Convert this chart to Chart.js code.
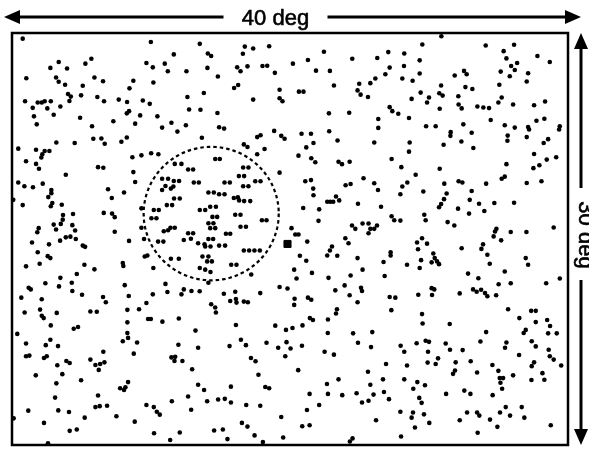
<!DOCTYPE html>
<html>
<head>
<meta charset="utf-8">
<script src="https://cdn.jsdelivr.net/npm/chart.js@4.4.1/dist/chart.umd.min.js"></script>
<style>
  html, body { margin: 0; padding: 0; background: #fff; }
  canvas { display: block; }
</style>
</head>
<body>
<canvas id="myChart" width="589" height="451"></canvas>
<script>
// field is 40 deg wide, 30 deg tall; dots given as [x deg from left, y deg from top]
const fieldWidth = 40
const fieldHeight = 30
const widthLabel = '40 deg'
const heightLabel = '30 deg'

const dotsRow1 = [
  [0.77,0.41],[9.99,0.65],[13.51,0.79],[11.64,1.56],[3.36,2.11],[5.71,1.87],[5.28,2.23],[2.76,2.54],[3.96,2.59],[9.67,2.18],
  [10.99,2.23],[10.13,2.50],[11.21,2.79],[12.55,2.79],[1.03,3.29],[3.17,3.24],[3.36,3.55],[3.82,3.77],[5.93,3.24],[6.55,3.51],
  [5.09,3.84],[8.73,3.48],[8.45,4.03],[10.17,3.60],[4.03,4.44],[4.23,4.63],[4.13,4.95],[4.97,4.54],[6.14,4.66],[6.62,4.97],
  [7.68,4.85],[8.28,5.02],[9.41,4.92],[9.91,5.16],[12.62,4.66],[0.94,4.97],[1.85,5.06],[2.14,5.06],[2.35,4.97],[2.79,4.97],
  [1.49,5.45],[2.54,5.49],[3.48,5.35],[3.00,5.95],[1.58,6.07],[1.78,6.65],[4.90,6.17],[5.76,6.79],[7.29,6.43],[8.42,5.69],
  [8.26,5.85],[9.22,6.00],[8.86,6.60],[10.46,6.07],[10.80,6.89],[11.47,6.53],[11.90,7.18],[12.51,6.72],[12.74,5.57],
  [16.75,0.99],[17.35,1.13],[18.50,0.96],[14.09,1.49],[14.33,1.68],[16.61,1.51],[22.44,1.37],[24.48,1.87],[26.28,1.82],[21.29,1.97],
  [20.21,2.23],[14.06,2.54],[16.20,2.50],[16.44,2.79],[16.94,2.43],[18.02,2.40],[18.36,2.38],[18.91,2.90],[21.87,2.74],[22.87,2.76],
  [26.86,3.00],[14.81,3.17],[24.98,3.69],[25.78,3.65],[26.14,3.31],[23.16,3.82],[15.98,4.01],[16.27,3.79],[19.25,4.13],[24.86,4.18],
  [25.08,4.49],[25.61,4.66],[13.80,4.37],[20.64,4.27],[20.97,4.27],[19.25,4.75],[19.46,4.97],[17.35,4.85],[13.56,5.59],[14.78,5.83],
  [22.80,5.85],[24.26,5.81],[26.35,6.26],[14.90,6.86],[15.26,6.96],[18.86,7.13],[20.83,7.34],[21.51,7.34],[22.82,7.15],[26.35,6.91],
  [30.89,0.24],[29.52,0.84],[34.08,0.91],[36.12,0.86],[27.07,1.39],[28.22,1.49],[35.37,1.32],[37.80,1.68],[35.57,1.85],[38.69,2.11],
  [29.33,1.99],[27.17,2.52],[28.20,2.40],[35.91,2.40],[36.34,2.18],[36.17,2.69],[35.16,2.81],[32.52,2.76],[32.71,3.00],[29.33,2.95],
  [31.85,3.10],[35.81,3.15],[37.13,2.93],[28.08,3.31],[28.82,3.48],[37.03,3.53],[35.06,3.77],[30.87,3.82],[32.62,3.94],[33.12,4.08],
  [29.40,4.34],[30.74,4.39],[30.98,4.56],[30.00,4.70],[28.75,4.80],[32.11,4.61],[35.23,4.70],[29.86,5.06],[34.99,5.06],[32.13,5.21],
  [32.35,5.49],[27.17,5.40],[27.36,5.69],[27.79,5.88],[30.77,5.52],[33.48,5.35],[33.91,5.42],[34.32,5.47],[36.05,5.21],[37.56,5.26],
  [38.35,4.99],[28.56,6.19],[34.44,6.34],[37.73,6.39],[38.30,6.24],[29.79,6.79],[30.48,6.79],[32.47,6.65],[35.45,6.72],[36.17,6.89],
  [37.13,6.84],[37.20,7.03],[39.41,6.79],[39.36,7.03],[31.56,7.22],[31.54,7.49],[33.07,7.26]
]

const dotsRow2 = [
  [0.45,8.42],[1.73,8.50],[2.35,8.59],[2.69,8.59],[2.18,8.83],[2.11,9.07],[3.19,7.97],[4.51,8.01],[5.85,7.70],[6.43,7.68],
  [6.67,8.06],[7.87,7.92],[8.26,7.61],[1.01,9.34],[1.73,9.53],[1.94,9.89],[3.87,10.32],[6.19,9.77],[6.57,9.81],[8.66,9.05],
  [9.31,8.91],[10.01,8.76],[10.53,8.83],[8.73,10.13],[8.86,10.85],[0.45,10.89],[0.89,11.16],[1.51,11.23],[2.21,10.97],[2.83,11.43],
  [2.83,11.66],[2.61,11.95],[6.91,11.38],[8.06,11.61],[0.09,12.15],[0.77,12.53],[2.90,12.38],[2.79,12.62],[3.58,12.51],[7.18,12.02],
  [3.67,13.25],[4.39,13.18],[6.60,13.10],[7.20,13.15],[7.39,13.41],[3.65,13.59],[3.00,13.95],[3.51,13.90],[4.34,13.99],[1.92,14.21],
  [1.82,14.51],[3.17,14.31],[4.54,14.38],[7.39,14.47],[9.31,14.18],[9.31,12.77],
  [10.80,10.61],[11.23,10.61],[11.64,10.78],[12.02,10.78],[11.04,11.14],[11.61,11.18],[10.80,11.43],[11.43,11.33],[11.66,12.05],[12.07,12.05],
  [11.14,12.53],[11.52,12.53],[10.20,12.89],[10.56,12.89],[10.03,13.49],[10.39,13.49],[11.40,14.18],[11.71,14.18],[11.23,14.36],[10.92,14.44],
  [12.67,14.58],[13.03,14.58],[11.71,9.53],[12.19,9.53],[12.67,9.94],[13.03,9.94],[13.08,10.89],[13.44,10.89],
  [13.66,7.63],[17.64,7.58],[17.88,7.44],[19.37,7.49],[19.61,7.70],[23.42,7.83],[26.06,7.97],[16.68,8.11],[16.94,8.30],[18.17,8.45],
  [17.64,8.83],[20.61,8.93],[21.17,8.33],[21.69,8.01],[21.53,9.12],[21.82,9.41],[23.49,9.38],[23.74,9.55],[24.29,9.38],[19.25,10.17],
  [14.62,9.17],[14.95,9.17],[16.63,9.79],[17.01,9.79],[16.32,10.42],[16.70,10.42],[15.29,10.89],[15.67,10.89],[17.50,10.80],[17.88,10.80],
  [16.63,11.16],[17.01,11.16],[14.13,11.61],[14.52,11.61],[14.90,11.74],[15.29,11.74],[15.96,12.02],[16.25,11.97],[16.34,12.19],[16.70,12.24],
  [17.14,12.24],[13.51,12.89],[13.90,12.89],[14.26,12.65],[14.67,12.65],[14.42,13.39],[14.76,13.39],[16.06,13.23],[16.44,13.23],[17.98,13.63],
  [18.31,13.63],[14.13,13.85],[14.49,13.85],[14.26,14.21],[14.62,14.21],[16.44,14.11],[16.83,14.11],[15.39,14.62],[15.70,14.62],
  [21.10,10.80],[21.51,10.71],[21.67,11.33],[21.69,11.81],[24.00,11.09],[24.36,10.99],[25.29,10.58],[26.06,10.94],[26.33,11.43],[22.68,12.29],
  [22.90,12.29],[23.11,12.29],[23.31,11.90],[23.54,12.19],[24.89,12.43],[20.95,12.74],[22.10,12.84],[26.55,12.65],[22.05,13.68],[20.11,14.21],
  [24.46,14.02],[24.70,14.26],[25.22,13.87],[25.65,13.87],[26.26,14.02],[25.78,14.26],[26.06,14.26],[25.65,14.58],
  [35.66,7.47],[35.64,7.85],[37.03,7.58],[28.61,7.97],[28.56,8.64],[31.05,8.14],[32.33,7.90],[33.19,8.37],[27.31,9.17],[28.01,9.77],
  [29.04,10.32],[30.77,9.89],[28.44,10.89],[28.08,11.18],[27.94,11.74],[29.59,11.54],[31.10,10.97],[31.27,11.69],[32.13,10.80],[32.40,10.89],
  [33.07,11.50],[34.11,10.97],[35.57,9.55],[35.23,10.61],[35.45,10.46],[37.03,10.92],[38.09,10.80],[37.56,8.81],[38.57,7.73],[38.25,8.01],
  [37.51,9.84],[37.94,9.63],[38.47,9.22],[39.15,9.05],[31.08,12.10],[30.87,12.46],[30.72,12.69],[32.09,12.79],[32.93,12.15],[33.60,12.43],
  [33.98,12.96],[32.88,13.15],[34.70,12.38],[36.12,12.36],[27.31,13.34],[27.50,13.63],[27.94,13.66],[29.66,13.23],[29.76,13.63],[31.34,13.77],
  [31.82,14.02],[34.85,14.26],[34.75,14.45],[35.88,14.49],[37.01,14.49],[38.97,14.16]
]

const dotsRow3 = [
  [1.44,15.26],[2.66,15.39],[3.46,15.12],[3.87,14.88],[4.20,14.83],[4.59,15.00],[5.09,15.48],[5.26,15.57],[1.85,15.96],[2.57,16.25],
  [2.76,16.39],[1.01,16.99],[1.99,16.80],[5.21,16.87],[5.93,17.21],[4.66,17.55],[3.48,17.83],[2.40,18.22],[3.38,18.45],[4.30,18.19],
  [1.20,18.55],[1.35,18.67],[4.34,18.79],[5.04,19.06],[0.67,19.27],[2.14,19.39],[6.55,19.22],[6.75,19.61],[0.91,20.35],[2.02,20.14],
  [2.14,20.59],[2.28,20.76],[3.22,20.38],[5.64,20.28],[6.10,20.30],[2.79,21.29],[4.44,21.53],[4.75,21.41],[0.38,21.91],[7.97,16.75],
  [8.01,16.97],[8.42,15.14],[8.11,18.36],[8.40,19.15],[8.30,20.16],[8.30,21.07],[8.30,21.85],[9.50,15.00],[9.55,16.27],[9.74,16.20],
  [10.17,17.11],[10.51,15.19],[10.89,15.19],[12.36,15.07],[12.87,14.98],[13.39,15.31],[11.43,16.44],[12.00,16.44],[11.04,18.27],[11.18,18.86],
  [12.36,18.67],[12.19,19.03],[12.91,18.79],[13.50,18.81],[10.13,19.03],[9.67,19.66],[9.14,20.11],[9.79,20.83],[9.99,20.83],[10.82,21.02],
  [12.00,20.79],[13.20,21.67],
  [20.38,14.67],[20.61,14.67],[21.24,15.19],[14.13,15.00],[14.47,15.00],[13.85,15.39],[13.90,15.55],[14.28,15.55],[14.90,15.48],[15.33,15.48],
  [16.68,15.84],[17.06,15.84],[17.44,15.84],[17.83,15.84],[13.70,16.27],[14.13,16.27],[14.04,16.63],[14.38,16.63],[15.77,16.87],[16.15,16.87],
  [13.51,17.11],[13.90,17.23],[14.28,17.40],[17.21,17.59],[14.13,18.19],[15.24,18.99],[16.06,18.84],[17.86,18.94],[15.70,19.51],[16.11,19.37],
  [16.15,19.63],[16.68,19.56],[16.97,19.61],[14.33,19.75],[14.62,19.99],[14.67,20.35],[16.11,21.26],[18.94,21.31],[19.71,21.62],[20.18,21.48],
  [20.90,21.29],[21.43,20.76],[21.65,20.90],[20.71,16.22],[21.17,16.58],[20.30,17.23],[21.58,17.47],[20.47,17.88],[19.25,18.50],[19.82,18.60],
  [20.33,19.35],[20.30,19.80],[21.29,19.27],[21.53,19.42],[23.02,15.55],[22.87,15.84],[22.68,16.20],[23.40,16.22],[23.98,14.95],[24.21,15.31],
  [24.86,16.39],[25.22,17.23],[24.36,17.66],[22.77,17.83],[26.73,16.68],[26.81,17.69],[23.93,18.38],[23.26,18.74],[25.11,18.55],[25.18,18.79],
  [24.29,19.10],[24.86,19.61],[23.38,20.11],[23.31,20.43],[22.73,20.86],[22.72,21.85],[24.54,21.87],[25.92,21.78],
  [34.65,14.81],[35.19,15.10],[29.50,14.95],[29.14,15.26],[29.86,15.34],[29.21,15.75],[27.24,15.96],[27.24,16.20],[30.31,16.06],[30.41,16.39],
  [30.19,16.70],[30.58,16.63],[30.72,16.83],[29.43,16.54],[29.33,17.11],[28.42,16.87],[32.35,15.67],[33.89,15.39],[33.77,15.72],[34.20,16.15],
  [34.37,16.80],[36.96,16.39],[37.13,16.87],[32.81,17.52],[33.55,17.86],[35.45,17.37],[35.01,18.29],[35.88,18.22],[38.43,18.22],[39.41,17.88],
  [30.19,18.58],[30.38,18.67],[29.23,19.06],[30.22,19.08],[32.21,18.96],[33.17,18.67],[33.43,18.84],[33.75,18.70],[34.03,18.94],[34.20,19.17],
  [34.83,19.10],[27.17,19.22],[27.58,19.27],[27.29,20.18],[29.50,20.47],[29.54,21.15],[31.49,21.19],[35.69,20.11],[36.50,20.76],[37.35,20.23],
  [37.68,20.23],[37.68,21.05],[38.50,20.90],[38.71,21.33],[36.96,21.62],[36.81,21.85],[38.57,21.87],[39.19,21.87],[34.11,21.78]
]

const dotsRow4 = [
  [8.35,22.20],[7.97,22.44],[1.01,22.61],[2.43,22.73],[2.76,22.34],[3.31,22.80],[9.00,22.54],[6.57,23.21],[8.76,23.35],[1.01,23.54],
  [1.25,23.49],[2.30,23.67],[2.50,23.54],[3.26,24.19],[3.91,23.88],[4.15,24.03],[5.64,23.78],[6.00,24.17],[6.34,24.10],[6.65,23.98],
  [6.24,24.53],[1.71,24.93],[3.62,24.84],[3.19,25.51],[4.97,25.29],[8.35,25.42],[8.16,25.80],[7.78,25.87],[8.06,25.99],[6.19,26.40],
  [3.10,26.55],[6.00,27.24],[6.31,27.17],[6.84,27.14],[1.17,27.50],[3.33,27.48],[4.10,27.60],[0.12,28.06],[5.23,28.01],[7.51,27.91],
  [8.83,28.30],[2.30,28.39],[4.15,28.97],[4.66,28.87],[2.59,29.88],[11.97,22.70],[13.39,22.92],[11.47,23.62],[11.74,23.58],[11.69,23.88],
  [12.26,23.88],[12.96,24.48],[13.39,25.61],[12.67,26.47],[11.50,26.81],[9.67,27.09],[10.20,27.24],[10.42,27.58],[10.63,27.79],[12.89,27.43],
  [10.22,29.14],[12.07,29.09],[11.38,29.64],
  [15.65,22.80],[16.47,22.34],[16.83,22.73],[18.31,22.56],[19.15,22.92],[19.75,22.51],[20.04,22.97],[19.66,23.54],[20.86,22.77],[17.19,23.67],
  [17.52,23.90],[17.73,24.89],[20.59,24.55],[24.89,22.56],[25.83,22.87],[22.49,23.21],[23.16,23.42],[26.91,24.10],[25.61,24.67],[13.82,25.99],
  [15.75,25.75],[18.22,25.78],[18.50,25.87],[14.04,26.81],[14.83,26.69],[15.31,26.64],[15.75,26.91],[16.85,27.09],[17.86,27.14],[21.41,26.28],
  [22.66,25.56],[23.49,25.22],[22.73,26.28],[23.76,26.37],[24.79,26.23],[25.78,25.61],[26.69,25.22],[26.76,26.14],[26.01,26.33],[25.18,26.91],
  [25.65,26.78],[22.10,27.09],[21.22,27.45],[19.37,27.96],[16.54,28.39],[16.94,28.66],[14.54,28.94],[15.17,28.87],[15.50,29.57],[17.45,29.30],
  [18.05,29.79],[19.51,29.45],[20.88,28.63],[21.41,28.56],[26.19,28.20],[24.50,29.52],[24.31,29.74],
  [27.96,22.77],[28.22,23.21],[29.11,22.59],[29.76,22.41],[30.00,22.49],[29.93,23.21],[31.20,22.61],[31.51,23.06],[32.42,23.09],[33.70,22.46],
  [35.57,22.54],[35.47,22.92],[36.48,23.45],[37.39,22.44],[37.68,22.82],[38.61,23.06],[38.69,23.54],[38.97,23.78],[39.51,24.21],[28.42,24.21],
  [29.90,24.00],[30.48,24.10],[30.65,23.69],[31.92,23.98],[33.00,23.90],[31.87,24.57],[31.73,24.82],[33.46,24.72],[34.56,24.17],[34.99,24.60],
  [37.56,23.98],[37.39,24.26],[38.16,24.77],[38.30,25.25],[37.37,25.27],[36.05,24.93],[35.09,25.13],[35.33,25.13],[35.14,25.47],[35.26,25.90],
  [28.22,25.22],[29.16,25.42],[29.71,25.65],[28.87,25.90],[27.12,26.66],[29.30,26.57],[29.47,26.93],[31.23,26.28],[32.54,26.04],[32.98,26.28],
  [34.58,26.37],[27.94,27.58],[28.85,27.63],[28.75,28.01],[29.64,27.77],[30.02,28.39],[28.99,28.73],[27.99,29.38],[32.21,28.20],[32.74,27.63],
  [33.46,27.63],[33.62,27.86],[34.39,28.15],[34.92,28.68],[35.11,27.63],[35.52,27.24],[35.83,27.86],[36.67,27.24],[36.86,28.01],[38.76,28.56],
  [33.50,29.11]
]

// fixation square and the dashed attention ring (deg)
const fixation = [[19.82, 15.36]]
const ringCenter = [14.33, 13.15]
const ringRadius = 4.86

function toPoints(arr) {
    return arr.map(p => ({x: p[0], y: p[1]}))
}

function ringPoints() {
    const pts = []
    const steps = 180
    for (let i = 0; i <= steps; i++) {
        const t = i / steps * Math.PI * 2
        pts.push({x: ringCenter[0] + ringRadius * Math.cos(t), y: ringCenter[1] + ringRadius * Math.sin(t)})
    }
    return pts
}

const allDots = [].concat(dotsRow1, dotsRow2, dotsRow3, dotsRow4)

function arrowHead(ctx, x, y, dx, dy) {
    const len = 16, half = 7
    const bx = x - dx * len, by = y - dy * len
    ctx.beginPath()
    ctx.moveTo(x, y)
    ctx.lineTo(bx - dy * half, by + dx * half)
    ctx.lineTo(bx + dy * half, by - dx * half)
    ctx.closePath()
    ctx.fill()
}

function segment(ctx, x0, y0, x1, y1) {
    ctx.beginPath()
    ctx.moveTo(x0, y0)
    ctx.lineTo(x1, y1)
    ctx.stroke()
}

const framePlugin = {
    id: 'frame',
    afterDraw(chart) {
        const ctx = chart.ctx
        const a = chart.chartArea
        ctx.save()
        ctx.strokeStyle = '#000'
        ctx.fillStyle = '#000'
        ctx.lineWidth = 2.5
        ctx.strokeRect(a.left, a.top, a.right - a.left, a.bottom - a.top)

        ctx.lineWidth = 3
        ctx.font = "22px 'Liberation Sans', Arial, sans-serif"

        // width arrow on top
        const ty = a.top - 16
        const left = a.left - 8, right = a.right + 13
        const midX = 275.5
        segment(ctx, left + 10, ty, midX - 52, ty)
        segment(ctx, midX + 52, ty, right - 10, ty)
        arrowHead(ctx, left, ty, -1, 0)
        arrowHead(ctx, right, ty, 1, 0)
        ctx.textAlign = 'center'
        ctx.textBaseline = 'alphabetic'
        ctx.lineWidth = 0.6
        ctx.fillText(widthLabel, midX, ty + 8)
        ctx.strokeText(widthLabel, midX, ty + 8)

        // height arrow on the right
        ctx.lineWidth = 3
        const rx = right
        const midY = 235
        segment(ctx, rx, a.top + 10, rx, midY - 47)
        segment(ctx, rx, midY + 45, rx, a.bottom - 10)
        arrowHead(ctx, rx, a.top, 0, -1)
        arrowHead(ctx, rx, a.bottom, 0, 1)
        ctx.translate(rx - 2, midY)
        ctx.rotate(Math.PI / 2)
        ctx.lineWidth = 0.6
        ctx.fillText(heightLabel, 0, 0)
        ctx.strokeText(heightLabel, 0, 0)
        ctx.restore()
    }
}

const ctx = document.getElementById('myChart')
new Chart(ctx, {
    type: 'scatter',
    data: {
        datasets: [
            {
                label: 'fixation',
                data: toPoints(fixation),
                pointStyle: 'rect',
                pointRadius: 5,
                backgroundColor: '#000',
                borderColor: '#000',
                borderWidth: 1,
                clip: false
            },
            {
                label: 'dots',
                data: toPoints(allDots),
                pointRadius: 2.3,
                backgroundColor: '#000',
                borderWidth: 0,
                clip: false
            },
            {
                label: 'ring',
                type: 'line',
                data: ringPoints(),
                borderColor: '#000',
                borderWidth: 2.2,
                borderDash: [3.5, 3],
                pointRadius: 0,
                fill: false,
                tension: 0
            }
        ]
    },
    options: {
        responsive: false,
        animation: false,
        devicePixelRatio: 1,
        events: [],
        layout: { padding: { left: 12, top: 33, right: 21, bottom: 2 } },
        scales: {
            x: { type: 'linear', min: 0, max: fieldWidth, display: false },
            y: { type: 'linear', min: 0, max: fieldHeight, reverse: true, display: false }
        },
        plugins: {
            legend: { display: false },
            tooltip: { enabled: false }
        }
    },
    plugins: [framePlugin]
})
</script>
</body>
</html>
